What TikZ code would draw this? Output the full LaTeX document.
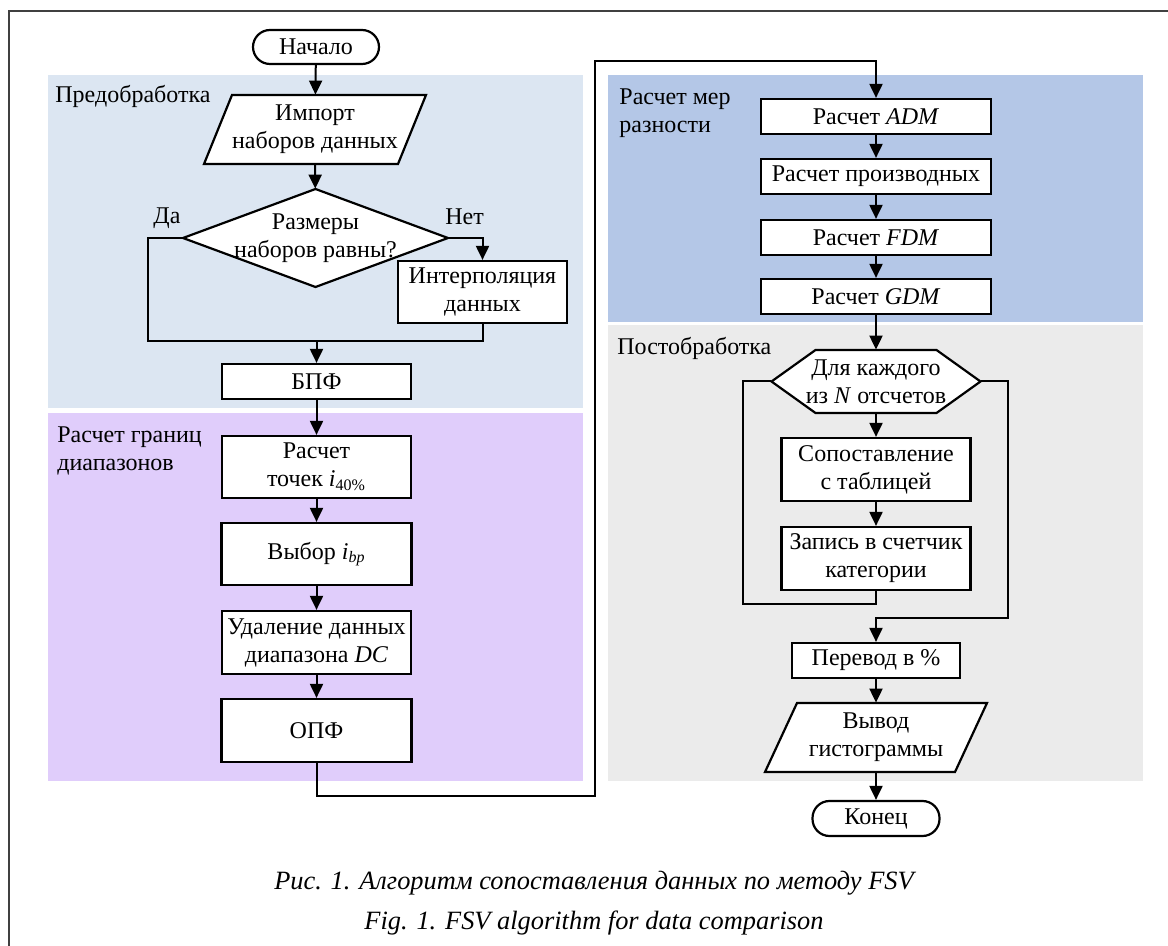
\documentclass[tikz,border=0pt]{standalone}
\usepackage{fontspec}
\setmainfont{Liberation Serif}
\usetikzlibrary{arrows.meta,calc}
\definecolor{preblue}{HTML}{DCE6F2}
\definecolor{rangepurple}{HTML}{E0CDFB}
\definecolor{measblue}{HTML}{B4C7E7}
\definecolor{postgray}{HTML}{EBEBEB}
\definecolor{framegray}{HTML}{404040}
\begin{document}
\begin{tikzpicture}[x=0.5pt,y=-0.5pt,
  every node/.style={font=\fontsize{12}{14}\selectfont},
  box/.style={draw, line width=1.1pt, fill=white, align=center, inner sep=1pt},
  ghost/.style={align=center, inner sep=0pt},
  shapeline/.style={draw, line width=1.1pt, fill=white},
  conn/.style={line width=1pt},
  arr/.style={conn, -{Triangle[length=7pt,width=6.5pt]}},
  region/.style={fill=#1, draw=none},
  regionlabel/.style={inner sep=0pt, align=left, anchor=base west},
  caption/.style={font=\fontsize{13.2}{15}\selectfont\itshape, anchor=base, inner sep=0pt},
]
\useasboundingbox (0,0) rectangle (1168,946);
% frame
\draw[framegray, line width=0.7pt] (9,980) -- (9,11) -- (1190,11);
% regions
\path[region=preblue] (48,75) rectangle (583,408);
\path[region=rangepurple] (48,413) rectangle (583,781);
\path[region=measblue] (608,75) rectangle (1143,322);
\path[region=postgray] (608,325) rectangle (1143,781);
\node[regionlabel] (lpre) at (55,103) {Предобработка};
\node[regionlabel] (lrange) at (57,471) {Расчет границ\\диапазонов};
\node[regionlabel] (lmeas) at (619,133) {Расчет мер\\разности};
\node[regionlabel] (lpost) at (617,355) {Постобработка};

% ---- left column
\node[box, rounded corners=8.5pt, minimum width=63pt, minimum height=17pt] (start) at (316,47) {Начало};

\coordinate (impc) at (315,129.5);
\draw[shapeline] ($(impc)+(-83,-34.5)$) -- ($(impc)+(111,-34.5)$) -- ($(impc)+(83,34.5)$) -- ($(impc)+(-111,34.5)$) -- cycle;
\node[ghost, minimum width=97pt, minimum height=34.5pt] (imp) at (impc) {Импорт\\наборов данных};

\coordinate (decc) at (315.5,238);
\draw[shapeline] ($(decc)+(0,-49)$) -- ($(decc)+(132.5,0)$) -- ($(decc)+(0,49)$) -- ($(decc)+(-132.5,0)$) -- cycle;
\node[ghost, minimum width=132.5pt, minimum height=49pt] (dec) at (decc) {Размеры\\наборов равны?};
\node[inner sep=0pt, anchor=base west] (yes) at (153,224) {Да};
\node[inner sep=0pt, anchor=base west] (no) at (445,225) {Нет};

\node[box, minimum width=84.5pt, minimum height=31pt] (interp) at (482.5,292) {Интерполяция\\данных};
\node[box, minimum width=94.5pt, minimum height=17.5pt] (bpf) at (316.5,381.5) {БПФ};
\node[box, minimum width=94.5pt, minimum height=31pt] (p40) at (316.5,467) {Расчет\\точек \textit{i}\textsubscript{40\%}};
\node[box, minimum width=95pt, minimum height=31pt] (ibp) at (316.5,554) {Выбор \textit{i}\textsubscript{\textit{bp}}};
\node[box, minimum width=94.5pt, minimum height=31.5pt] (dcrem) at (316.5,642.5) {Удаление данных\\диапазона \textit{DC}};
\node[box, minimum width=95pt, minimum height=31.5pt] (opf) at (316.5,730.5) {ОПФ};

% ---- right column
\node[box, minimum width=115pt, minimum height=17.5pt] (adm) at (876,116.5) {Расчет \textit{ADM}};
\node[box, minimum width=115pt, minimum height=17.5pt] (der) at (876,176.5) {Расчет производных};
\node[box, minimum width=115pt, minimum height=17.5pt] (fdm) at (876,237.5) {Расчет \textit{FDM}};
\node[box, minimum width=115pt, minimum height=17.5pt] (gdm) at (876,296.5) {Расчет \textit{GDM}};

\coordinate (loopc) at (876,381.5);
\draw[shapeline] ($(loopc)+(-104.5,0)$) -- ($(loopc)+(-60.5,-31.5)$) -- ($(loopc)+(60.5,-31.5)$) -- ($(loopc)+(104.5,0)$) -- ($(loopc)+(60.5,31.5)$) -- ($(loopc)+(-60.5,31.5)$) -- cycle;
\node[ghost, minimum width=104.5pt, minimum height=31.5pt] (loop) at (loopc) {Для каждого\\из \textit{N} отсчетов};

\node[box, minimum width=94.5pt, minimum height=31.5pt] (match) at (876,469.5) {Сопоставление\\с таблицей};
\node[box, minimum width=94.5pt, minimum height=31.5pt] (rec) at (876,558.5) {Запись в счетчик\\категории};
\node[box, minimum width=84pt, minimum height=17.5pt] (pct) at (876,660.5) {Перевод в \%};

\coordinate (outc) at (876,737.5);
\draw[shapeline] ($(outc)+(-79,-34.5)$) -- ($(outc)+(111,-34.5)$) -- ($(outc)+(79,34.5)$) -- ($(outc)+(-111,34.5)$) -- cycle;
\node[ghost, minimum width=95pt, minimum height=34.5pt] (out) at (outc) {Вывод\\гистограммы};

\node[box, rounded corners=8.5pt, minimum width=63.5pt, minimum height=17.5pt] (end) at (876,818.5) {Конец};

% ---- connectors
\coordinate (jl) at (148,341);
\coordinate (b1) at (595,796);
\coordinate (t1) at (595,61);
\coordinate (ll) at (743,604);
\coordinate (rr) at (1008,618);

\draw[arr] (start) -- (imp);
\draw[arr] (imp) -- (dec);
\draw[conn] (dec.west) -| (jl) -- (interp.south |- jl) -- (interp.south);
\draw[arr] (dec.east) -| (interp.north);
\draw[arr] (bpf.north |- jl) -- (bpf.north);
\draw[arr] (bpf) -- (p40);
\draw[arr] (p40) -- (ibp);
\draw[arr] (ibp) -- (dcrem);
\draw[arr] (dcrem) -- (opf);
\draw[arr] (opf.south) |- (b1) -- (t1) -| (adm.north);
\draw[arr] (adm) -- (der);
\draw[arr] (der) -- (fdm);
\draw[arr] (fdm) -- (gdm);
\draw[arr] (gdm) -- (loop);
\draw[arr] (loop) -- (match);
\draw[arr] (match) -- (rec);
\draw[conn] (rec.south) |- (ll) |- (loop.west);
\draw[arr] (loop.east) -| (rr) -| (pct.north);
\draw[arr] (pct) -- (out);
\draw[arr] (out) -- (end);

% ---- caption
\node[caption] (cap1) at (594,889) {Рис. 1. Алгоритм сопоставления данных по методу FSV};
\node[caption] (cap2) at (594,929) {Fig. 1. FSV algorithm for data comparison};
\end{tikzpicture}
\end{document}
